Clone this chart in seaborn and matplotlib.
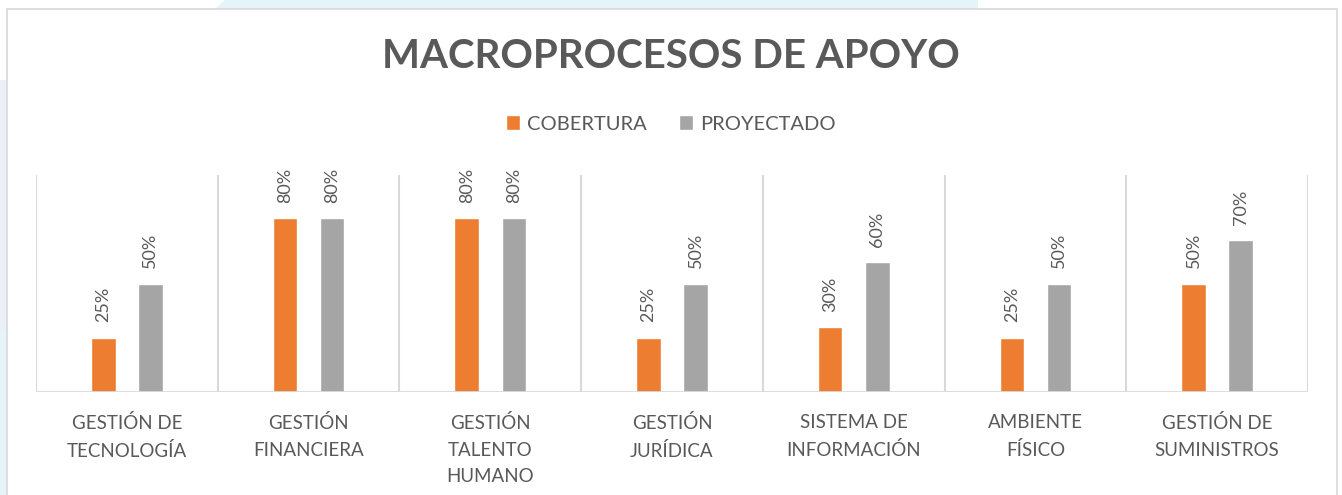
import numpy as np
import pandas as pd
import matplotlib.pyplot as plt
import seaborn as sns
from matplotlib.patches import Rectangle, Polygon

# Chart data
categorias = ["GESTIÓN DE\nTECNOLOGÍA", "GESTIÓN\nFINANCIERA", "GESTIÓN\nTALENTO\nHUMANO",
              "GESTIÓN\nJURÍDICA", "SISTEMA DE\nINFORMACIÓN", "AMBIENTE\nFÍSICO",
              "GESTIÓN DE\nSUMINISTROS"]
cobertura = [0.25, 0.80, 0.80, 0.25, 0.30, 0.25, 0.50]
proyectado = [0.50, 0.80, 0.80, 0.50, 0.60, 0.50, 0.70]
series = ["COBERTURA", "PROYECTADO"]

NARANJA = "#ED7D31"
GRIS = "#A5A5A5"
TEXTO = "#595959"
LINEA = "#D9D9D9"

df = pd.DataFrame({
    "categoria": categorias * 2,
    "valor": cobertura + proyectado,
    "serie": [series[0]] * len(categorias) + [series[1]] * len(categorias),
})

sns.set_style("white")
plt.rcParams['font.family'] = ['Lato', 'DejaVu Sans']

W, H = 1342, 495
fig = plt.figure(figsize=(W / 100, H / 100), dpi=100)

# faint background decoration outside the chart frame
fig.add_artist(Polygon([[225 / W, 1], [978 / W, 1], [978 / W, 1 - 9 / H], [215 / W, 1 - 9 / H]],
                       closed=True, transform=fig.transFigure, facecolor="#E4F4F8", edgecolor="none", zorder=-3))
fig.add_artist(Rectangle((0, 1 - 330 / H), 7 / W, 250 / H, transform=fig.transFigure,
                         facecolor="#EAF0F5", edgecolor="none", zorder=-3))
fig.add_artist(Rectangle((0, 0), 7 / W, 165 / H, transform=fig.transFigure,
                         facecolor="#E6F4F7", edgecolor="none", zorder=-3))

# chart frame
fig.add_artist(Rectangle((7 / W, -0.1), (1337 - 7) / W, 1.1 - 9 / H, transform=fig.transFigure,
                         facecolor="white", edgecolor=LINEA, linewidth=1.2, zorder=-2))

ax = fig.add_axes([36 / W, 1 - 392 / H, (1308 - 36) / W, (392 - 175) / H])
ax.set_facecolor("none")

sns.barplot(data=df, x="categoria", y="valor", hue="serie", palette=[NARANJA, GRIS],
            width=0.52, gap=0.48, ax=ax, saturation=1, zorder=3)

for cont in ax.containers:
    ax.bar_label(cont, labels=[f"{v * 100:.0f}%" for v in cont.datavalues], rotation=90,
                 padding=11, fontsize=13, color=TEXTO)

ax.set_ylim(0, 1)
ax.set_xlim(-0.5, len(categorias) - 0.5)
for x in np.arange(-0.5, len(categorias), 1.0):
    ax.axvline(x, color=LINEA, linewidth=1.5, zorder=1)
ax.axhline(0, color=LINEA, linewidth=2, zorder=4)

sns.despine(ax=ax, left=True, bottom=True)
ax.set_yticks([])
ax.set_xlabel("")
ax.set_ylabel("")
ax.tick_params(axis="x", length=0, pad=16)
for t in ax.get_xticklabels():
    t.set_fontsize(13.5)
    t.set_color(TEXTO)
    t.set_linespacing(1.68)

handles, labels = ax.get_legend_handles_labels()
ax.legend(handles, labels, loc="center", bbox_to_anchor=(0.5, 1 - 124 / H),
          bbox_transform=fig.transFigure, ncol=2, frameon=False, fontsize=14.5,
          handlelength=0.7, handleheight=0.7, handletextpad=0.35, columnspacing=1.6,
          labelcolor=TEXTO)

fig.text(0.5, 1 - 56 / H, "MACROPROCESOS DE APOYO", ha="center", va="center",
         fontsize=29, fontweight="bold", color=TEXTO)

fig.savefig("out.png", dpi=100)
